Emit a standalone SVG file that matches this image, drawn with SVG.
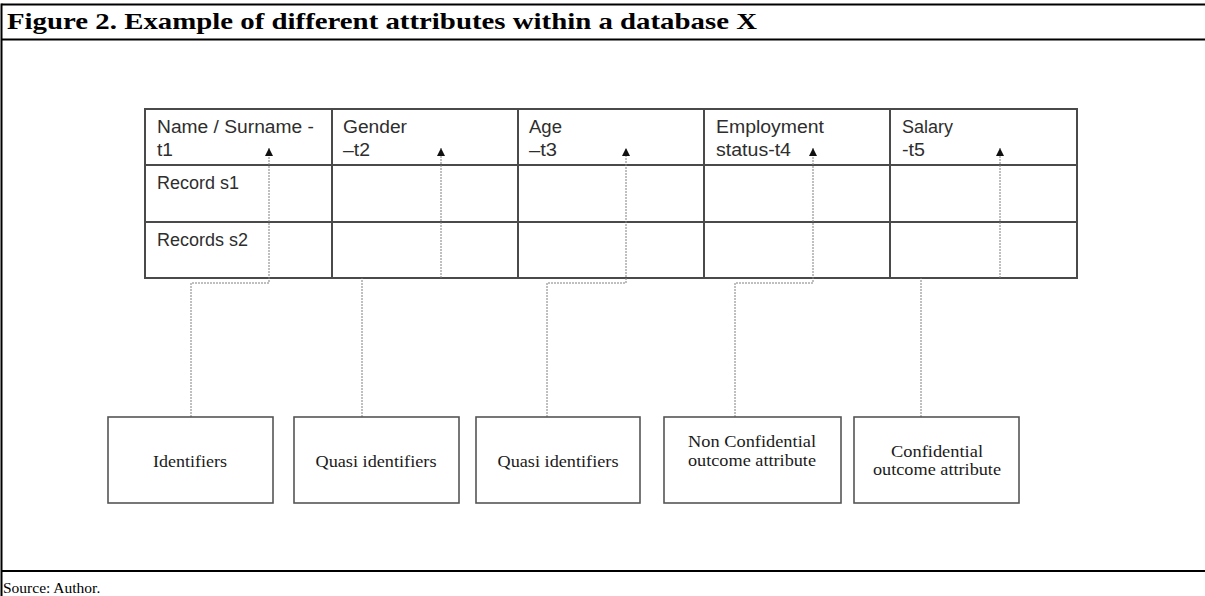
<svg xmlns="http://www.w3.org/2000/svg" width="1205" height="596" viewBox="0 0 1205 596">
<defs>
<style>
.frame{stroke:#000;stroke-width:2;fill:none}
.title{font-family:"Liberation Serif","Times New Roman",serif;font-weight:bold;font-size:24px;fill:#000}
.src{font-family:"Liberation Serif","Times New Roman",serif;font-size:15.5px;fill:#000}
.tbl{stroke:#4a4a4a;stroke-width:2;fill:none}
.cell{font-family:"Liberation Sans",Arial,sans-serif;font-size:17.5px;fill:#2e2e2e}
.box{stroke:#555;stroke-width:1.6;fill:#fff}
.lbl{font-family:"Liberation Serif","Times New Roman",serif;font-size:16.5px;fill:#1a1a1a;text-anchor:middle}
.con{stroke:#808080;stroke-width:1;fill:none;stroke-dasharray:2 1}
</style>
<marker id="ah" markerUnits="userSpaceOnUse" markerWidth="10" markerHeight="10" viewBox="0 0 10 10" refX="9" refY="5" orient="auto">
<path d="M1,1 L9,5 L1,9 Z" fill="#111"/>
</marker>
</defs>
<rect width="1205" height="596" fill="#fff"/>
<g id="frame">
<line class="frame" x1="1.5" y1="4.5" x2="1205" y2="4.5"/>
<line class="frame" x1="1.5" y1="39.5" x2="1205" y2="39.5"/>
<line class="frame" x1="1.5" y1="571" x2="1205" y2="571"/>
<line class="frame" x1="1.5" y1="3.5" x2="1.5" y2="596"/>
<text class="title" x="7" y="29" textLength="750" lengthAdjust="spacingAndGlyphs">Figure 2. Example of different attributes within a database X</text>
<text class="src" x="3" y="593">Source: Author.</text>
</g>
<g id="table">
<rect class="tbl" x="145" y="109" width="932" height="169"/>
<line class="tbl" x1="145" y1="165" x2="1077" y2="165"/>
<line class="tbl" x1="145" y1="222" x2="1077" y2="222"/>
<line class="tbl" x1="332" y1="109" x2="332" y2="278"/>
<line class="tbl" x1="518" y1="109" x2="518" y2="278"/>
<line class="tbl" x1="704" y1="109" x2="704" y2="278"/>
<line class="tbl" x1="890" y1="109" x2="890" y2="278"/>
<text class="cell" x="157" y="133" textLength="157" lengthAdjust="spacingAndGlyphs">Name / Surname -</text>
<text class="cell" x="157" y="156" textLength="16" lengthAdjust="spacingAndGlyphs">t1</text>
<text class="cell" x="343" y="133" textLength="64" lengthAdjust="spacingAndGlyphs">Gender</text>
<text class="cell" x="343" y="156" textLength="27" lengthAdjust="spacingAndGlyphs">–t2</text>
<text class="cell" x="529" y="133" textLength="33" lengthAdjust="spacingAndGlyphs">Age</text>
<text class="cell" x="529" y="156" textLength="28" lengthAdjust="spacingAndGlyphs">–t3</text>
<text class="cell" x="716" y="133" textLength="108" lengthAdjust="spacingAndGlyphs">Employment</text>
<text class="cell" x="716" y="156" textLength="75" lengthAdjust="spacingAndGlyphs">status-t4</text>
<text class="cell" x="902" y="133" textLength="51" lengthAdjust="spacingAndGlyphs">Salary</text>
<text class="cell" x="902" y="156" textLength="23" lengthAdjust="spacingAndGlyphs">-t5</text>
<text class="cell" x="157" y="189" textLength="82" lengthAdjust="spacingAndGlyphs">Record s1</text>
<text class="cell" x="157" y="246" textLength="91" lengthAdjust="spacingAndGlyphs">Records s2</text>
</g>
<g id="connectors">
<path class="con" d="M191,417 V283 H269 V148" marker-end="url(#ah)"/>
<path class="con" d="M362,417 V278"/>
<path class="con" d="M441,278 V148" marker-end="url(#ah)"/>
<path class="con" d="M547,417 V283 H626 V148" marker-end="url(#ah)"/>
<path class="con" d="M735,417 V283 H813 V148" marker-end="url(#ah)"/>
<path class="con" d="M921,417 V278"/>
<path class="con" d="M1000,278 V148" marker-end="url(#ah)"/>
</g>
<g id="identifiers">
<rect class="box" x="108" y="417" width="165" height="86"/>
<text class="lbl" x="190" y="467" textLength="74" lengthAdjust="spacingAndGlyphs">Identifiers</text>
</g>
<g id="quasi1">
<rect class="box" x="294" y="417" width="165" height="86"/>
<text class="lbl" x="376" y="467" textLength="121" lengthAdjust="spacingAndGlyphs">Quasi identifiers</text>
</g>
<g id="quasi2">
<rect class="box" x="476" y="417" width="164" height="86"/>
<text class="lbl" x="558" y="467" textLength="121" lengthAdjust="spacingAndGlyphs">Quasi identifiers</text>
</g>
<g id="nonconf">
<rect class="box" x="664" y="417" width="177" height="86"/>
<text class="lbl" x="752" y="447" textLength="128" lengthAdjust="spacingAndGlyphs">Non Confidential</text>
<text class="lbl" x="752" y="466" textLength="128" lengthAdjust="spacingAndGlyphs">outcome attribute</text>
</g>
<g id="conf">
<rect class="box" x="854" y="417" width="165" height="86"/>
<text class="lbl" x="937" y="457" textLength="92" lengthAdjust="spacingAndGlyphs">Confidential</text>
<text class="lbl" x="937" y="475" textLength="128" lengthAdjust="spacingAndGlyphs">outcome attribute</text>
</g>
</svg>
